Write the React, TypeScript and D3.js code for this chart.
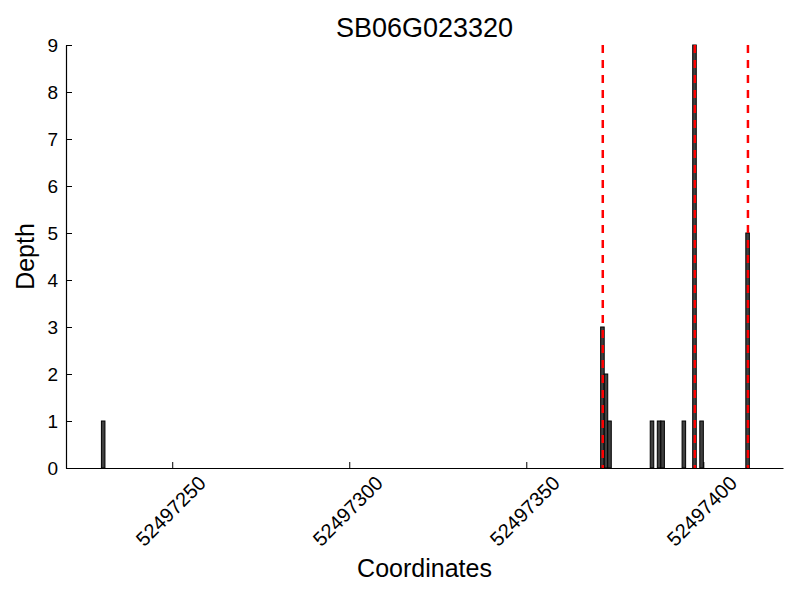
import React, { useEffect, useRef } from "react";
import * as d3 from "d3";

// depth per coordinate (bar starts at coordinate, width 1)
const positions = [52497230, 52497371, 52497372, 52497373, 52497385, 52497387, 52497388, 52497394, 52497397, 52497399, 52497412];
const depths = [1, 3, 2, 1, 1, 1, 1, 1, 9, 1, 5];
// red dashed markers
const markers = [52497371.6, 52497397.6, 52497412.6];
const xTicks = [52497250, 52497300, 52497350, 52497400];
const yTicks = [0, 1, 2, 3, 4, 5, 6, 7, 8, 9];
const title = "SB06G023320";

const App = () => {
    const ref = useRef<SVGSVGElement>(null);

    useEffect(() => {
        const svg = d3.select(ref.current);
        svg.selectAll("*").remove();

        const dims = { width: 800, height: 600, margin: { top: 45, right: 17, bottom: 132, left: 66 } };
        const innerW = dims.width - dims.margin.left - dims.margin.right;
        const innerH = dims.height - dims.margin.top - dims.margin.bottom;
        const font = "'Liberation Sans', Arial, sans-serif";

        const data = positions.map((p, i) => ({ x: p, v: depths[i] }));

        const xScale = d3.scaleLinear().domain([52497220, 52497422.5]).range([0, innerW]);
        const yScale = d3.scaleLinear().domain([0, 9]).range([innerH, 0]);

        const bounds = svg.append("g")
            .attr("transform", `translate(${dims.margin.left},${dims.margin.top})`);

        bounds.selectAll("rect.bar")
            .data(data)
            .enter()
            .append("rect")
            .attr("class", "bar")
            .attr("x", d => xScale(d.x))
            .attr("width", d => xScale(d.x + 1) - xScale(d.x))
            .attr("y", d => yScale(d.v))
            .attr("height", d => innerH - yScale(d.v))
            .attr("fill", "#404040")
            .attr("stroke", "#000")
            .attr("stroke-width", 1);

        bounds.selectAll("line.marker")
            .data(markers)
            .enter()
            .append("line")
            .attr("x1", d => xScale(d))
            .attr("x2", d => xScale(d))
            .attr("y1", 0)
            .attr("y2", innerH)
            .attr("stroke", "#ff0000")
            .attr("stroke-width", 2.5)
            .attr("stroke-dasharray", "8,7");

        // x axis, ticks pointing inward
        const xAxis = bounds.append("g")
            .attr("transform", `translate(0,${innerH})`)
            .call(d3.axisBottom(xScale).tickValues(xTicks).tickFormat(d3.format("d")).tickSizeInner(-6).tickSizeOuter(0));
        xAxis.select(".domain").attr("stroke", "#000").attr("stroke-width", 1.2);
        xAxis.selectAll("text")
            .attr("font-family", font)
            .attr("font-size", 20)
            .attr("fill", "#000")
            .attr("text-anchor", "middle")
            .attr("dy", "0.35em")
            .attr("x", 0)
            .attr("y", 0)
            .attr("transform", "translate(-2,43) rotate(-45)");

        const yAxis = bounds.append("g")
            .call(d3.axisLeft(yScale).tickValues(yTicks).tickSizeInner(-6).tickSizeOuter(0).tickPadding(8));
        yAxis.select(".domain").attr("stroke", "#000").attr("stroke-width", 1.2);
        yAxis.selectAll("text")
            .attr("font-family", font)
            .attr("font-size", 19)
            .attr("fill", "#000");

        svg.append("text")
            .attr("x", dims.margin.left + innerW / 2)
            .attr("y", 37)
            .attr("text-anchor", "middle")
            .attr("font-family", font)
            .attr("font-size", 27)
            .text(title);

        svg.append("text")
            .attr("x", dims.margin.left + innerW / 2)
            .attr("y", 577)
            .attr("text-anchor", "middle")
            .attr("font-family", font)
            .attr("font-size", 25)
            .text("Coordinates");

        svg.append("text")
            .attr("transform", `translate(34,${dims.margin.top + innerH / 2}) rotate(-90)`)
            .attr("text-anchor", "middle")
            .attr("font-family", font)
            .attr("font-size", 25)
            .text("Depth");
    }, []);

    return (
        <svg ref={ref} width={800} height={600} style={{ display: "block", position: "absolute", left: 0, top: 0 }} />
    );
};

export default App;
